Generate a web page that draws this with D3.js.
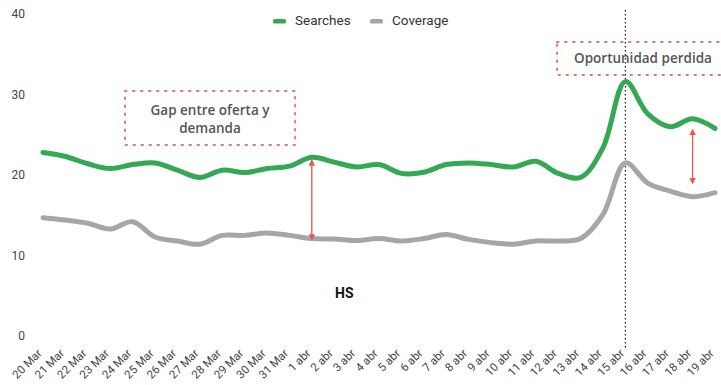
<!DOCTYPE html>
<html><head><meta charset="utf-8">
<script src="https://cdn.jsdelivr.net/npm/d3@7"></script>
<style>
body{margin:0;background:#fff;}
svg{display:block;font-family:Roboto, "Noto Sans", sans-serif;}
</style></head>
<body><svg id="c" width="721" height="385"></svg>
<script>
const categories = ["20 Mar","21 Mar","22 Mar","23 Mar","24 Mar","25 Mar","26 Mar","27 Mar","28 Mar","29 Mar","30 Mar","31 Mar","1 abr","2 abr","3 abr","4 abr","5 abr","6 abr","7 abr","8 abr","9 abr","10 abr","11 abr","12 abr","13 abr","14 abr","15 abr","16 abr","17 abr","18 abr","19 abr"];
const searches = [22.8,22.3,21.4,20.8,21.3,21.5,20.6,19.7,20.6,20.3,20.8,21.1,22.2,21.6,21.0,21.3,20.2,20.35,21.3,21.5,21.3,21.0,21.7,20.2,19.7,23.4,31.6,27.6,26.0,27.0,25.8];
const coverage = [14.7,14.4,14.0,13.3,14.2,12.3,11.8,11.4,12.5,12.5,12.8,12.5,12.1,12.05,11.85,12.1,11.8,12.1,12.6,12.0,11.6,11.4,11.8,11.8,12.1,15.1,21.5,19.0,18.0,17.3,17.8];
const yTicks = [0,10,20,30,40];
const seriesNames = ["Searches","Coverage"];
const colors = ["#35a853","#a6a6a6"];

const svg = d3.select("#c");
const x = d3.scalePoint().domain(categories).range([43,715]);
const y = d3.scaleLinear().domain([0,40]).range([336,14]);

// y axis
const ya = svg.append("g").attr("transform","translate(25,0)")
  .call(d3.axisLeft(y).tickValues(yTicks).tickSize(0).tickPadding(0));
ya.select(".domain").remove();
ya.selectAll("text").attr("font-size",12).attr("fill","#444").attr("font-family","Roboto, sans-serif");

// x axis
const xa = svg.append("g").attr("transform","translate(0,336)")
  .call(d3.axisBottom(x).tickSize(0));
xa.select(".domain").remove();
xa.selectAll("text").attr("font-size",11.5).attr("fill","#444").attr("font-family","Roboto, sans-serif")
  .attr("text-anchor","end").attr("y",0).attr("dy",0)
  .attr("transform","translate(-1,18) rotate(-45)");

// dotted vertical line at 15 abr
svg.append("line").attr("x1",x("15 abr")).attr("x2",x("15 abr"))
  .attr("y1",10).attr("y2",350).attr("stroke","#222").attr("stroke-width",1.3)
  .attr("stroke-dasharray","1.5,2.5");

const line = d3.line().x((d,i)=>x(categories[i])).y(d=>y(d)).curve(d3.curveCatmullRom.alpha(0.5));
svg.append("path").datum(coverage).attr("d",line).attr("fill","none")
  .attr("stroke",colors[1]).attr("stroke-width",5).attr("stroke-linejoin","round").attr("stroke-linecap","round");
svg.append("path").datum(searches).attr("d",line).attr("fill","none")
  .attr("stroke",colors[0]).attr("stroke-width",5).attr("stroke-linejoin","round").attr("stroke-linecap","round");

// legend
const lg = [{x:273,n:0},{x:370,n:1}];
lg.forEach(l=>{
  svg.append("rect").attr("x",l.x).attr("y",19).attr("width",13).attr("height",4.5).attr("rx",1.5).attr("fill",colors[l.n]);
  svg.append("text").attr("x",l.x+22).attr("y",25).attr("font-size",13.5).attr("fill","#333").text(seriesNames[l.n]);
});

// arrows
const red = "#e8554a";
const defs = svg.append("defs");
defs.append("marker").attr("id","ah").attr("viewBox","0 0 10 10").attr("refX",8).attr("refY",5)
  .attr("markerWidth",5).attr("markerHeight",5).attr("orient","auto-start-reverse")
  .append("path").attr("d","M0,0 L10,5 L0,10 z").attr("fill",red);
function arrow(cat, v1, v2){
  svg.append("line").attr("x1",x(cat)).attr("x2",x(cat)).attr("y1",y(v1)).attr("y2",y(v2))
    .attr("stroke",red).attr("stroke-width",1.3)
    .attr("marker-start","url(#ah)").attr("marker-end","url(#ah)");
}
arrow("1 abr", searches[12]-0.4, coverage[12]-0.1);
arrow("18 abr", 25.6, 19.0);

// dotted boxes
function dotBox(x0,y0,x1,y1){
  svg.append("rect").attr("x",x0).attr("y",y0).attr("width",x1-x0).attr("height",y1-y0)
    .attr("fill","none").attr("stroke","#e07a72").attr("stroke-width",2)
    .attr("stroke-dasharray","1.5,6.5").attr("stroke-linecap","round");
}
dotBox(125,91,295,145);
dotBox(557,42,730,75);
const af = "'Open Sans', sans-serif";
svg.append("text").attr("x",210).attr("y",115).attr("text-anchor","middle").attr("font-size",13.5)
  .attr("font-family",af).attr("font-weight",600).attr("fill","#555").text("Gap entre oferta y");
svg.append("text").attr("x",210).attr("y",133).attr("text-anchor","middle").attr("font-size",13.5)
  .attr("font-family",af).attr("font-weight",600).attr("fill","#555").text("demanda");
svg.append("text").attr("x",643).attr("y",63).attr("text-anchor","middle").attr("font-size",13.5)
  .attr("font-family",af).attr("font-weight",600).attr("fill","#555").text("Oportunidad perdida");

svg.append("text").attr("x",335).attr("y",298).attr("font-size",14).attr("font-weight","bold")
  .attr("fill","#111").text("HS");
</script></body></html>
